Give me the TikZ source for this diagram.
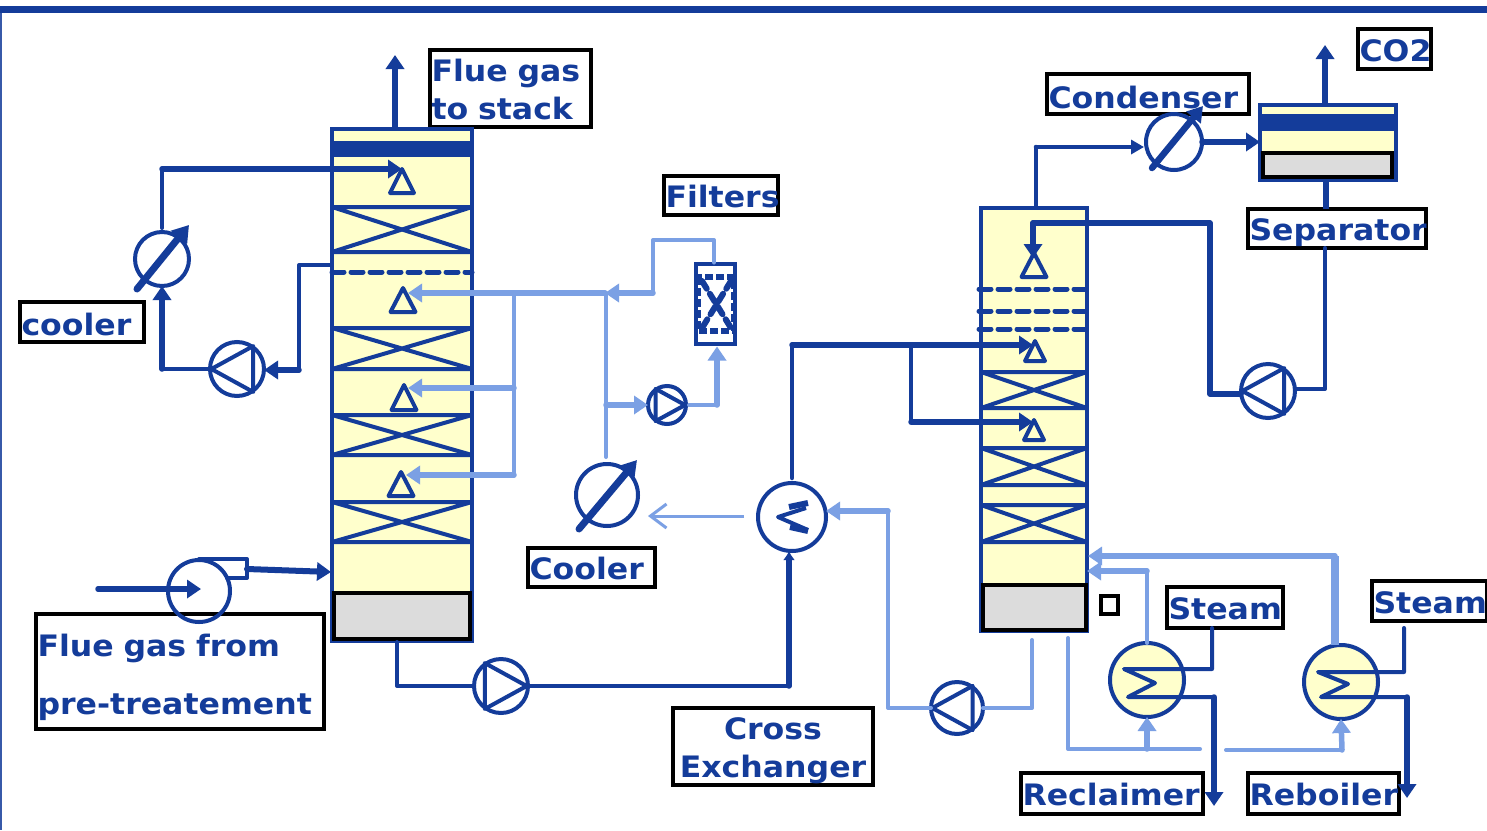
\documentclass[tikz,border=0pt]{standalone}
\usepackage{fontspec}
\setmainfont{DejaVu Sans}[FakeStretch=1.07]
\usetikzlibrary{arrows.meta,calc}
\definecolor{dk}{HTML}{143C9A}
\definecolor{lt}{HTML}{7BA0E4}
\definecolor{yl}{HTML}{FFFFCC}
\definecolor{gy}{HTML}{DCDCDC}
\tikzset{
  x=1pt,y=-1pt,
  pipe/.style={draw=dk,line width=4pt,line cap=round,line join=round},
  thick pipe/.style={draw=dk,line width=5.5pt,line cap=round,line join=round},
  lpipe/.style={draw=lt,line width=4pt,line cap=round,line join=round},
  thick lpipe/.style={draw=lt,line width=5.5pt,line cap=round,line join=round},
  tip/.style={-{Triangle[length=14pt,width=18pt]}},
  smalltip/.style={-{Triangle[length=13pt,width=14pt]}},
  circ/.style={circle,draw=dk,line width=4pt,inner sep=0pt,outer sep=0pt,fill=white,minimum size=#1},
  sym/.style={draw=dk,line width=4pt,line join=round},
  column/.style={draw=dk,fill=yl,line width=4pt},
  sump/.style={draw=black,fill=gy,line width=4pt},
  bed/.style={draw=dk,line width=4pt},
  tray/.style={draw=dk,line width=5pt,line cap=round,dash pattern=on 12pt off 7pt},
  labelbox/.style n args={2}{draw=black,line width=3.5pt,fill=white,anchor=north west,
     minimum width=#1,minimum height=#2,text width=#1,inner sep=0pt,outer sep=0pt,text=dk,
     font=\fontsize{29.5}{38}\selectfont\bfseries,align=left},
}
\newcommand{\Lb}[2][2pt]{\hspace*{1.5pt}\raisebox{-#1}[\height][\depth]{#2}}
\newcommand{\Nozzle}[5]{% name, apex x, apex y, base y, half width
  \coordinate (#1) at (#2,#3);
  \draw[sym] (#2,#3) -- (#2-#5,#4) -- (#2+#5,#4) -- cycle;}
\newcommand{\Bed}[4]{% x1,x2,y1,y2
  \draw[bed] (#1,#3) -- (#2,#3) (#1,#4) -- (#2,#4) (#1,#3) -- (#2,#4) (#1,#4) -- (#2,#3);}
\newcommand{\PumpL}[4]{% name,x,y,r : triangle apex to the left
  \node[circ=#4*2pt] (#1) at (#2,#3) {};
  \draw[sym] ($(#1)+(-#4*0.95,0)$) -- ($(#1)+(#4*0.6,-#4*0.85)$) -- ($(#1)+(#4*0.6,#4*0.85)$) -- cycle;}
\newcommand{\PumpR}[4]{% name,x,y,r : triangle apex to the right
  \node[circ=#4*2pt] (#1) at (#2,#3) {};
  \draw[sym] ($(#1)+(#4*0.95,0)$) -- ($(#1)+(-#4*0.6,-#4*0.85)$) -- ($(#1)+(-#4*0.6,#4*0.85)$) -- cycle;}
\begin{document}
\begin{tikzpicture}
\useasboundingbox (0,0) rectangle (1487,830);
\fill[white] (0,0) rectangle (1487,830);
\fill[dk] (0,6) rectangle (1487,13);
\fill[dk!85!white] (0,13) rectangle (1.5,830);

%%% labels drawn first, so equipment lies over them
\node[labelbox={161pt}{77pt}] (lStack) at (430,50) {\Lb[1pt]{Flue gas}\\\Lb[1pt]{to stack}};
\node[labelbox={124pt}{40pt}] (lCool) at (20,302) {\Lb{cooler}};
\node[labelbox={288pt}{115pt},font=\fontsize{29.5}{58}\selectfont\bfseries] (lFlue) at (36,614) {\Lb[6pt]{Flue gas from}\\\Lb[6pt]{pre-treatement}};
\node[labelbox={114pt}{39pt}] (lFilt) at (664,176) {\Lb[1pt]{Filters}};
\node[labelbox={127pt}{39pt}] (lCooler) at (528,548) {\Lb[1pt]{Cooler}};
\node[labelbox={200pt}{77pt},align=center] (lCross) at (673,708) {\raisebox{-4pt}[\height][\depth]{Cross}\\\raisebox{-4pt}[\height][\depth]{Exchanger}};
\node[labelbox={202pt}{40pt}] (lCond) at (1047,74) {\Lb[3pt]{Condenser}};
\node[labelbox={73pt}{40pt}] (lCO) at (1358,29) {\Lb{CO2}};
\node[labelbox={178pt}{39pt}] (lSep) at (1248,209) {\Lb[4pt]{Separator}};
\node[labelbox={116pt}{41pt}] (lSt1) at (1167,587) {\Lb[1pt]{Steam}};
\node[labelbox={115pt}{40pt}] (lSt2) at (1372,581) {\Lb[2pt]{Steam}};
\node[labelbox={182pt}{41pt}] (lRec) at (1021,773) {\Lb[1pt]{Reclaimer}};
\node[labelbox={151pt}{41pt}] (lReb) at (1248,773) {\Lb[1pt]{Reboiler}};
\node[labelbox={17pt}{18pt}] (lDot) at (1101,596) {};

%%% absorber
\draw[column] (332,129) rectangle (472,641);
\fill[dk] (330,141) rectangle (474,157);
\Bed{332}{472}{207}{252}
\Bed{332}{472}{328}{369}
\Bed{332}{472}{415}{455}
\Bed{332}{472}{502}{542}
\draw[tray] (332,272) -- (472,272);
\draw[sump] (334,593) rectangle (470,639);
\Nozzle{nA}{402}{169}{193}{12}
\Nozzle{nB}{403}{288}{312}{12.5}
\Nozzle{nC}{404}{385}{410}{12.5}
\Nozzle{nD}{401}{472}{496}{12.5}
\coordinate (aTop) at (395,129);
\coordinate (aStack) at (395,55);
\coordinate (aFeed) at (331,572);
\coordinate (aDraw) at (331,265);
\coordinate (aBot) at (397,642);

%%% absorber water wash loop
\node[circ=54pt,fill=none] (cWash) at (162,259) {};
\PumpL{pWash}{237}{369}{27}
\coordinate (wA) at (162,169);
\coordinate (wB) at (162,369);
\coordinate (wC) at (299,370);
\draw[pipe] (cWash.north) ++(0,-4) -- (wA);
\draw[thick pipe,tip] (wA) -- (nA);
\draw[thick pipe,tip] (wB) -- (cWash.south);
\draw[pipe] (pWash.west) -- (wB);
\draw[thick pipe,tip] (wC) -- ($(pWash.east)+(0,1)$);
\draw[pipe] (aDraw) -| (wC);
\draw[draw=dk,line width=7pt,line cap=round,-{Triangle[length=16pt,width=20pt]}] (137,289) -- (189,225);

%%% stack
\draw[thick pipe,line width=6pt,tip,line cap=butt] (aTop) -- (aStack);

%%% blower
\coordinate (bA) at (98,589);
\coordinate (bEnd) at (201,589);
\coordinate (bOut) at (247,569);
\draw[pipe] (199,559) -- (247,559) -- (247,578) -- (227,578);
\node[circ=62pt,fill=none] (blower) at (199,591) {};
\draw[thick pipe,tip] (bA) -- (bEnd);
\draw[thick pipe,line width=6pt,tip] (bOut) -- (aFeed);

%%% rich pump
\PumpR{pRich}{501}{686}{27}
\node[circ=68pt,fill=white] (xch) at (792,517) {};
\coordinate (rA) at (397,686);
\coordinate (rB) at (789,686);
\draw[pipe] (aBot) |- (pRich.west);
\draw[pipe] (pRich.east) -- (rB);
\draw[thick pipe,-{Latex[length=9pt,width=12pt]}] (rB) -- (789,551);
\draw[draw=dk,line width=4pt,line join=round] (806,508) -- (778,517) -- (808,530);
\draw[draw=dk,line width=6pt] (789,507) -- (808,503);
\draw[draw=dk,line width=6pt] (790,527) -- (808,531);

%%% filters
\draw[draw=dk,line width=4pt,fill=white] (696,264) rectangle (735,344);
\draw[draw=dk,line width=6pt,dash pattern=on 8pt off 3pt] (698,277) rectangle (734,331);
\draw[draw=dk,line width=6pt,dash pattern=on 9pt off 6pt,line cap=round] (702,281) -- (731,328) (731,281) -- (702,328);
\node[inner sep=0pt,outer sep=0pt] (fTop) at (714,263) {};
\node[inner sep=0pt,outer sep=0pt] (fBot) at (717,346) {};

%%% lean solvent to absorber (light)
\coordinate (hA) at (605,293);
\coordinate (hB) at (514,293);
\coordinate (hC) at (514,388);
\coordinate (hD) at (514,475);
\coordinate (hE) at (653,240);
\coordinate (hF) at (653,293);
\coordinate (hG) at (606,457);
\coordinate (hH) at (606,405);
\coordinate (hB1) at (408,293);
\coordinate (hC1) at (408,388);
\coordinate (hD1) at (406,475);
\draw[lpipe] (fTop) |- (hE) -- (hF);
\draw[thick lpipe,tip] (hF) -- (hA);
\draw[thick lpipe,tip] (hA) -- (hB1);
\draw[lpipe] (hB) -- (hD);
\draw[thick lpipe,tip] (hC) -- (hC1);
\draw[thick lpipe,tip] (hD) -- (hD1);
\draw[lpipe] (hA -| hG) -- (hG);
\PumpR{pFilt}{667}{405}{19}
\draw[thick lpipe,tip] (hH) -- (pFilt.west);
\coordinate (hI) at (717,405);
\draw[lpipe] (pFilt.east) ++(3,0) -- (hI);
\draw[thick lpipe,tip] (hI) -- (fBot);

%%% lean cooler
\node[circ=62pt,fill=none] (cLean) at (607,495) {};
\draw[draw=dk,line width=7pt,line cap=round,-{Triangle[length=17pt,width=20pt]}] (579,529) -- (637,460);
\coordinate (xL) at (744,516);
\coordinate (xLe) at (648,516);
\draw[draw=lt,line width=3pt,-{Straight Barb[length=16pt,width=24pt,line width=3pt]}] (xL) -- (xLe);

%%% stripper
\draw[column] (981,208) rectangle (1087,631);
\Bed{981}{1087}{372}{408}
\Bed{981}{1087}{448}{485}
\Bed{981}{1087}{505}{542}
\draw[tray] (979,289) -- (1087,289);
\draw[tray] (979,311) -- (1087,311);
\draw[tray] (979,329) -- (1087,329);
\draw[sump] (983,585) rectangle (1086,630);
\Nozzle{nE}{1034}{253}{277}{12.5}
\Nozzle{nF}{1035}{341}{361}{10}
\Nozzle{nG}{1034}{420}{440}{10}

%%% rich to stripper
\coordinate (sA) at (792,345);
\coordinate (sB) at (911,345);
\coordinate (sC) at (911,422);
\coordinate (sF) at (1033,345);
\coordinate (sG) at (1033,422);
\draw[pipe,line width=4.5pt] (xch.north) ++(0,-5) -- (sA);
\draw[thick pipe,tip] (sA) -- (sF);
\draw[pipe] (sB) -- (sC);
\draw[thick pipe,tip] (sC) -- (sG);

%%% separator
\draw[draw=dk,fill=yl,line width=4pt] (1260,105) rectangle (1396,180);
\fill[dk] (1259,114) rectangle (1397,131);
\draw[sump] (1263,153) rectangle (1392,177);
\node[circ=56pt,fill=none] (cCond) at (1174,142) {};
\coordinate (tA) at (1036,207);
\coordinate (tB) at (1036,147);
\coordinate (tSep) at (1260,142);
\coordinate (tCO) at (1325,45);
\coordinate (tTop) at (1325,104);
\draw[pipe,line width=4.5pt] (tA) -- (tB);
\draw[pipe,line width=4.5pt,smalltip] (tB) -- (1144,147);
\draw[draw=dk,line width=6.5pt,line cap=round,-{Triangle[length=15pt,width=18pt]}] (1152,168) -- (1203,106);
\draw[thick pipe,tip] (cCond.east) -- (tSep);
\draw[thick pipe,line width=6pt,tip,line cap=butt] (tTop) -- (tCO);
\coordinate (tS1) at (1326,181);
\coordinate (tS2) at (1326,209);
\draw[thick pipe,line width=6pt,line cap=butt] (tS1) -- (tS2);

%%% reflux
\PumpL{pRef}{1268}{391}{27}
\coordinate (fA) at (1325,248);
\coordinate (fB) at (1325,389);
\coordinate (fC) at (1210,394);
\coordinate (fD) at (1210,223);
\coordinate (fE) at (1033,223);
\draw[pipe] (fA) -- (fB) -- ($(pRef.east)+(0,-2)$);
\draw[thick pipe] ($(pRef.west)+(0,3)$) -- (fC) -- (fD) -- (fE);
\draw[thick pipe,tip] (fE) -- (1033,258);

%%% rich into exchanger, lean from bottom
\PumpL{pLean}{957}{708}{26}
\coordinate (eA) at (888,708);
\coordinate (eB) at (888,511);
\coordinate (eC) at (1032,708);
\coordinate (eD) at (1032,640);
\draw[lpipe] (eD) -- (eC) -- (pLean.east);
\draw[lpipe] (pLean.west) -- (eA) -- (eB);
\draw[thick lpipe,tip] (eB) -- (826,511);

%%% reclaimer and reboiler
\node[circ=74pt,fill=yl] (hxA) at (1147,680) {};
\node[circ=74pt,fill=yl] (hxB) at (1341,682) {};
\coordinate (cA1) at (1124,669);
\coordinate (cA2) at (1155,683);
\coordinate (cA3) at (1128,697);
\coordinate (cA4) at (1212,669);
\coordinate (cA5) at (1214,697);
\coordinate (cB1) at (1318,672);
\coordinate (cB2) at (1348,684);
\coordinate (cB3) at (1321,697);
\coordinate (cB4) at (1404,672);
\coordinate (cB5) at (1407,697);
\draw[pipe] (lSt1.south -| cA4) -- (cA4) -- (cA1) -- (cA2) -- (cA3) -- (cA5);
\draw[thick pipe,tip] (cA5) -- (1214,806);
\coordinate (cB6) at (1404,628);
\draw[pipe] (cB6) -- (cB4) -- (cB1) -- (cB2) -- (cB3) -- (cB5);
\draw[thick pipe,tip] (cB5) -- (1407,798);
\coordinate (vA) at (1147,571);
\coordinate (vB) at (1335,556);
\coordinate (vC) at (1068,638);
\coordinate (vD) at (1068,749);
\coordinate (vE) at (1147,749);
\coordinate (vF) at (1200,749);
\coordinate (vG) at (1226,750);
\coordinate (vH) at (1342,750);
\draw[lpipe] (hxA.north) -- (vA);
\draw[thick lpipe,tip] (vA) -- (1087,571);
\draw[draw=lt,line width=8pt] (hxB.north -| vB) -- (vB);
\draw[thick lpipe,tip] (vB) -- (1088,556);
\draw[lpipe] (vC) -- (vD) -- (vF);
\draw[thick lpipe,tip] (vE) -- (hxA.south);
\draw[lpipe] (vG) -- (vH);
\draw[thick lpipe,tip] (vH) -- (hxB.south);
\end{tikzpicture}
\end{document}
